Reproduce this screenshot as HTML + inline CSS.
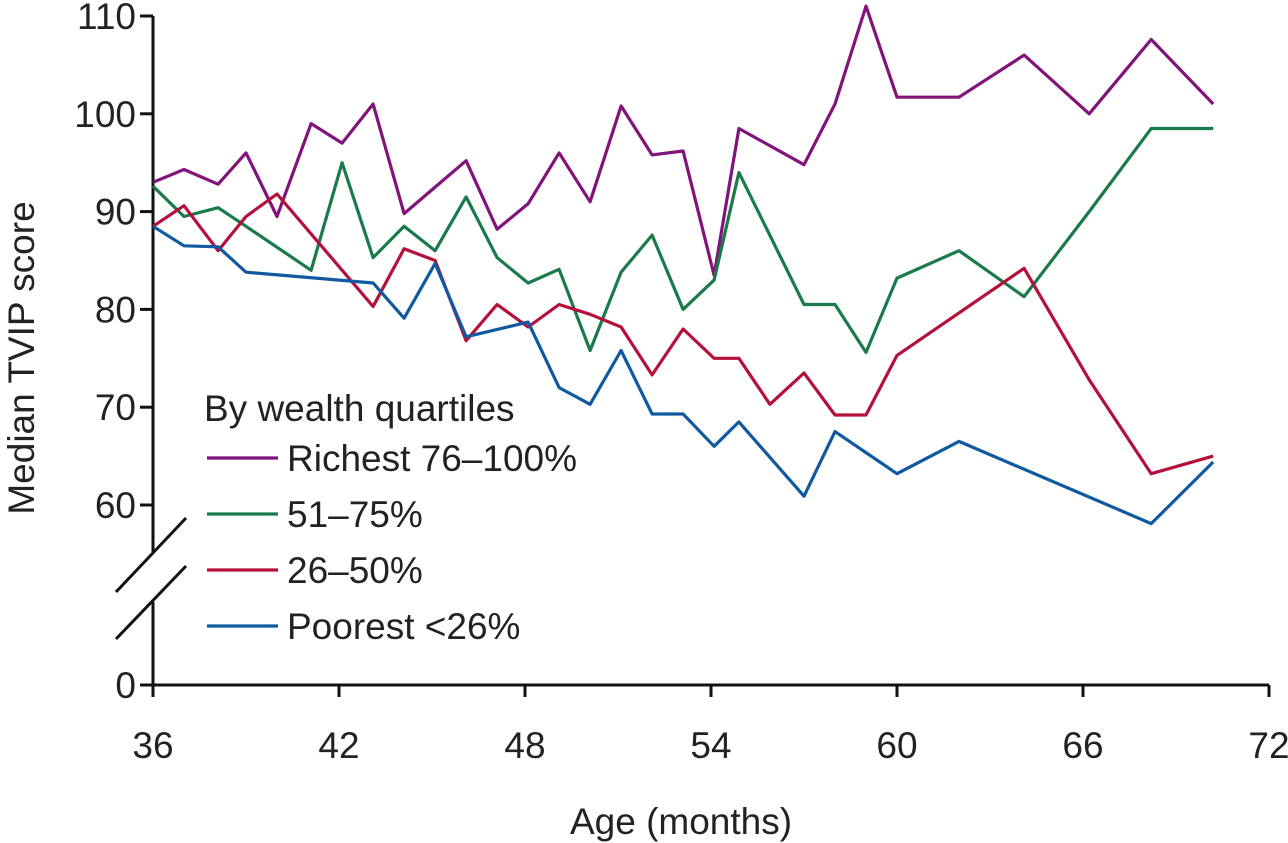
<!DOCTYPE html>
<html><head><meta charset="utf-8"><style>
body{margin:0;background:#fff}
svg{display:block;font-family:"Liberation Sans",sans-serif}
</style></head><body>
<svg width="1288" height="843" id="c"></svg>
<script>
const ages=[36,37,38.1,39,40,41.1,42.1,43.1,44.1,45.1,46.1,47.1,48.1,49.1,50.1,51.1,52.1,53.1,54.1,54.9,55.9,57,58,59,60,62,64.1,66.2,68.2,70.2];
const richest=[93,94.3,92.8,96,89.5,99,97,101,89.8,92.5,95.2,88.2,90.8,96,91,100.8,95.8,96.2,83.5,98.5,null,94.8,101,111,101.7,101.7,106,100,107.6,101];
const q3=[92.6,89.5,90.4,88.5,null,84,95,85.3,88.5,86,91.5,85.3,82.7,84.1,75.8,83.8,87.6,80,83,94,null,80.5,80.5,75.6,83.2,86,81.3,90,98.5,98.5];
const q2=[88.5,90.6,86,89.5,91.8,null,null,80.3,86.2,85,76.8,80.5,78.2,80.5,79.5,78.2,73.3,78,75,75,70.3,73.5,69.2,69.2,75.3,null,84.2,72.8,63.2,65];
const poorest=[88.5,86.5,86.4,83.8,null,null,null,82.7,79.1,84.7,77.2,null,78.7,72,70.3,75.8,69.3,69.3,66,68.5,null,60.9,67.5,null,63.2,66.5,null,null,58.1,64.4];
const xTicks=[36,42,48,54,60,66,72];
const yTicks=[0,60,70,80,90,100,110];
const series=[["richest-line","#80147a",richest,"Richest 76–100%"],["q3-line","#1a7a4a",q3,"51–75%"],["q2-line","#b5103c",q2,"26–50%"],["poorest-line","#1059a0",poorest,"Poorest <26%"]];
const X=a=>153+(a-36)*31;
const Y=v=>v===0?685:16+(110-v)*9.78;
const s=document.getElementById('c');const NS="http://www.w3.org/2000/svg";
function mk(t,a,p){const e=document.createElementNS(NS,t);for(const k in a)e.setAttribute(k,a[k]);(p||s).appendChild(e);return e;}
let e;
e=mk('path',{d:'M153 16V552M153 602V697M153 685H1269',stroke:'#111','stroke-width':3,fill:'none'});


e=mk('path',{d:'M116 592L186 518M116 639L186 566',stroke:'#111','stroke-width':3});


yTicks.forEach(v=>{mk('line',{x1:140,x2:153,y1:Y(v),y2:Y(v),stroke:'#111','stroke-width':3});
e=mk('text',{x:136,y:Y(v)+13,'text-anchor':'end','font-size':37,fill:'#222'});e.textContent=v;

});
xTicks.forEach(v=>{mk('line',{x1:X(v),x2:X(v),y1:685,y2:697,stroke:'#111','stroke-width':3});
e=mk('text',{x:X(v),y:758,'text-anchor':'middle','font-size':37,fill:'#222'});e.textContent=v;

});
e=mk('text',{x:681,y:834,'text-anchor':'middle','font-size':37,fill:'#222'});e.textContent='Age (months)';


e=mk('text',{x:0,y:0,transform:'translate(34,358) rotate(-90)','text-anchor':'middle','font-size':37,fill:'#222'});e.textContent='Median TVIP score';


series.forEach(([n,c,vals])=>{let d='';ages.forEach((a,i)=>{if(vals[i]==null)return;d+=(d?'L':'M')+X(a).toFixed(1)+' '+Y(vals[i]).toFixed(1);});
e=mk('path',{d:d,stroke:c,'stroke-width':3.2,fill:'none','stroke-linejoin':'round'});

});
e=mk('text',{x:204,y:421,'font-size':37,fill:'#222'});e.textContent='By wealth quartiles';


series.forEach(([n,c,v,l],i)=>{const y=458+i*56;const g=mk('g',{});


mk('line',{x1:207,x2:278,y1:y,y2:y,stroke:c,'stroke-width':3.2},g);
const t=mk('text',{x:287,y:y+13,'font-size':37,fill:'#222'},g);t.textContent=l;});
</script>
</body></html>
